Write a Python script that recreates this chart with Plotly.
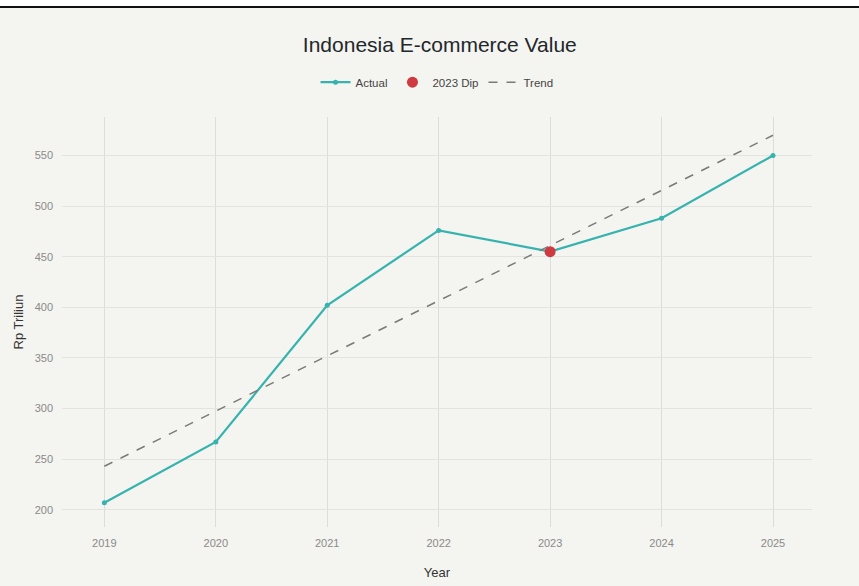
import plotly.graph_objects as go

years = [2019, 2020, 2021, 2022, 2023, 2024, 2025]
actual = [207, 267, 402, 476, 455, 488, 550]
dip_year = [2023]
dip_value = [455]
trend_years = [2019, 2025]
trend_values = [243, 570]
y_ticks = [200, 250, 300, 350, 400, 450, 500, 550]

fig = go.Figure()
fig.add_trace(go.Scatter(
    x=years, y=actual, mode="lines+markers", name="Actual",
    line=dict(color="#36b3ae", width=2.2),
    marker=dict(color="#36b3ae", size=5),
))
fig.add_trace(go.Scatter(
    x=dip_year, y=dip_value, mode="markers", name="2023 Dip",
    marker=dict(color="#cf3a40", size=11),
))
fig.add_trace(go.Scatter(
    x=trend_years, y=trend_values, mode="lines", name="Trend",
    line=dict(color="#7a7a7a", width=1.5, dash="dash"),
))

fig.update_layout(
    width=859, height=586,
    margin=dict(l=62, r=47, t=117, b=59),
    paper_bgcolor="#f4f4f0", plot_bgcolor="#f4f4f0",
    font=dict(family="Liberation Sans, Arial, sans-serif", color="#555"),
    title=dict(text="Indonesia E-commerce Value", x=0.512, xanchor="center",
               y=1 - 45 / 586, yanchor="middle",
               font=dict(size=21, color="#22272b")),
    legend=dict(orientation="h", x=0.5, xanchor="center", y=1.085, yanchor="middle",
                font=dict(size=11.5, color="#444"), bgcolor="rgba(0,0,0,0)",
                itemwidth=30, tracegroupgap=0),
    showlegend=True,
    xaxis=dict(
        title=dict(text="Year", font=dict(size=13, color="#333"), standoff=19),
        range=[2018.62, 2025.35], tickmode="array", tickvals=years,
        ticktext=[str(y) for y in years],
        showgrid=True, gridcolor="#dcdcd8", gridwidth=1,
        zeroline=False, showline=False, ticks="",
        ticklabelstandoff=8, automargin=False,
        tickfont=dict(size=11, color="#8a8a8a"),
    ),
    yaxis=dict(
        title=dict(text="Rp Triliun", font=dict(size=13, color="#333"), standoff=8),
        range=[183, 588], tickmode="array", tickvals=y_ticks,
        showgrid=True, gridcolor="#e3e3df", gridwidth=1,
        zeroline=False, showline=False, ticks="",
        ticklabelstandoff=8, automargin=False,
        tickfont=dict(size=11, color="#8a8a8a"),
    ),
    shapes=[
        dict(type="rect", xref="paper", yref="paper",
             x0=-62 / 750, x1=(859 - 62) / 750, y0=(527 - 6) / 410, y1=(527 + 2) / 410 + 1,
             fillcolor="white", line=dict(width=0), layer="below"),
        dict(type="line", xref="paper", yref="paper",
             x0=-62 / 750, x1=(859 - 62) / 750, y0=(527 - 7) / 410, y1=(527 - 7) / 410,
             line=dict(color="#111", width=2)),
    ],
)

fig.write_html("out.html")
